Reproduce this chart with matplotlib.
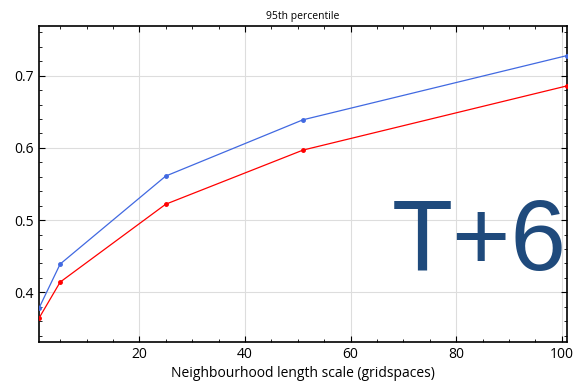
import matplotlib
matplotlib.use("Agg")
import matplotlib.pyplot as plt
from matplotlib.ticker import MultipleLocator

# neighbourhood length scale (gridspaces)
scales = [1, 5, 25, 51, 101]
blue_vals = [0.378, 0.439, 0.561, 0.639, 0.728]
red_vals = [0.364, 0.414, 0.522, 0.597, 0.686]
x_ticks = [20, 40, 60, 80, 100]
y_ticks = [0.4, 0.5, 0.6, 0.7]

plt.rcParams['font.family'] = ['Open Sans', 'DejaVu Sans']

fig = plt.figure(figsize=(5.73, 3.85), dpi=100)
ax = fig.add_axes([39 / 573, 1 - 342 / 385, 528 / 573, 316 / 385])

ax.plot(scales, blue_vals, color='#4169e1', lw=0.9, marker='o', ms=2.5, zorder=3)
ax.plot(scales, red_vals, color='#ff0000', lw=0.9, marker='o', ms=2.5, zorder=3)

ax.set_xlim(1, 101)
ax.set_ylim(0.331, 0.769)
ax.set_xticks(x_ticks)
ax.set_yticks(y_ticks)
ax.xaxis.set_minor_locator(MultipleLocator(5))
ax.yaxis.set_minor_locator(MultipleLocator(0.02))
ax.tick_params(which='both', direction='in', top=True, right=True, labelsize=10)
ax.tick_params(which='major', length=4)
ax.tick_params(which='minor', length=2)
ax.grid(True, which='major', color='#dddddd', lw=0.8)
ax.set_axisbelow(True)
for s in ax.spines.values():
    s.set_linewidth(1.2)

ax.set_title('95th percentile', fontsize=7.5, pad=5)
ax.set_xlabel('Neighbourhood length scale (gridspaces)', fontsize=10, labelpad=3)

ax.text(1.0, 0.31, 'T+6', transform=ax.transAxes, ha='right', va='center',
        fontsize=72, color='#1f4a7c', family='Liberation Sans')

fig.savefig('out.png', dpi=100)
